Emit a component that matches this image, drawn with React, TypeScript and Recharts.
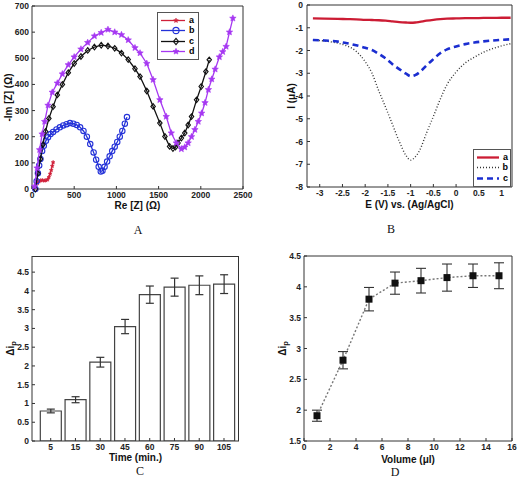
import React from "react";
import {
  ScatterChart,
  Scatter,
  LineChart,
  Line,
  ComposedChart,
  Bar,
  XAxis,
  YAxis,
  Legend,
  ErrorBar,
} from "recharts";

// ---------- A: Nyquist plots ----------
const reA = [65, 85, 105, 125, 145, 165, 185, 200, 215, 228, 240, 250];
const imA = [22, 30, 33, 33, 32, 33, 36, 45, 58, 72, 88, 102];

const reB = [40, 55, 70, 85, 100, 120, 140, 165, 190, 220, 250, 290, 330, 370, 410, 450, 490, 530, 570, 610, 650, 690, 730, 760, 790, 815, 835, 860, 890, 920, 950, 980, 1010, 1040, 1070, 1100, 1125];
const imB = [0, 30, 60, 90, 115, 145, 165, 185, 198, 210, 218, 228, 236, 243, 248, 252, 250, 245, 236, 222, 200, 172, 140, 112, 85, 67, 70, 85, 105, 125, 145, 162, 180, 200, 222, 250, 275];

const reC = [40, 70, 100, 130, 160, 200, 250, 300, 360, 430, 500, 580, 660, 740, 820, 900, 980, 1060, 1140, 1220, 1280, 1360, 1435, 1515, 1575, 1630, 1670, 1700, 1730, 1770, 1810, 1850, 1890, 1950, 2005, 2060, 2100];
const imC = [0, 60, 115, 170, 220, 270, 315, 360, 400, 445, 480, 507, 530, 543, 550, 547, 538, 520, 495, 460, 430, 375, 316, 252, 201, 163, 155, 160, 176, 195, 214, 245, 277, 341, 392, 449, 494];

const reD = [30, 60, 90, 120, 150, 190, 240, 300, 360, 430, 500, 580, 660, 740, 820, 900, 980, 1060, 1140, 1220, 1280, 1360, 1435, 1515, 1590, 1650, 1710, 1770, 1810, 1850, 1890, 1930, 1970, 2010, 2050, 2090, 2130, 2170, 2220, 2260, 2300, 2340, 2380];
const imD = [10, 80, 150, 210, 258, 320, 370, 405, 440, 475, 505, 535, 560, 585, 598, 610, 600, 590, 570, 540, 520, 480, 418, 341, 277, 214, 176, 153, 160, 176, 200, 227, 258, 290, 330, 380, 420, 458, 505, 525, 545, 600, 653];

const reTicks = [0, 500, 1000, 1500, 2000, 2500];
const imTicks = [0, 100, 200, 300, 400, 500, 600, 700];

// ---------- B: DPV curves ----------
const potential = [-3.15, -2.9, -2.6, -2.4, -2.2, -2.0, -1.85, -1.7, -1.55, -1.4, -1.25, -1.1, -1.0, -0.9, -0.8, -0.65, -0.5, -0.35, -0.2, 0, 0.2, 0.4, 0.6, 0.8, 1.0, 1.2];
const curA = [-0.59, -0.6, -0.61, -0.62, -0.63, -0.65, -0.66, -0.67, -0.69, -0.72, -0.75, -0.77, -0.78, -0.77, -0.74, -0.69, -0.65, -0.62, -0.6, -0.59, -0.58, -0.58, -0.57, -0.57, -0.56, -0.56];
const curB = [-1.54, -1.58, -1.68, -1.8, -2.03, -2.49, -3.0, -3.78, -4.5, -5.25, -6.0, -6.62, -6.82, -6.68, -6.38, -5.62, -4.9, -4.15, -3.5, -2.95, -2.55, -2.3, -2.08, -1.92, -1.8, -1.7];
const curC = [-1.54, -1.56, -1.61, -1.68, -1.77, -1.88, -1.98, -2.15, -2.35, -2.6, -2.82, -3.02, -3.13, -3.08, -2.95, -2.65, -2.38, -2.12, -1.95, -1.82, -1.72, -1.65, -1.6, -1.56, -1.53, -1.51];
const eTicks = [-3, -2.5, -2, -1.5, -1, -0.5, 0, 0.5, 1];
const iTicks = [0, -1, -2, -3, -4, -5, -6, -7, -8];

// ---------- C: incubation time ----------
const times = ["5", "15", "30", "45", "60", "75", "90", "105"];
const dipTime = [0.8, 1.1, 2.1, 3.05, 3.9, 4.1, 4.15, 4.18];
const dipTimeErr = [0.05, 0.08, 0.13, 0.19, 0.23, 0.24, 0.25, 0.25];
const dipTicksC = [0, 0.5, 1, 1.5, 2, 2.5, 3, 3.5, 4, 4.5];
const slotTicks = [1, 2, 3, 4, 5, 6, 7, 8];

// ---------- D: volume ----------
const volumes = [1, 3, 5, 7, 9, 11, 13, 15];
const dipVol = [1.91, 2.81, 3.8, 4.06, 4.1, 4.15, 4.18, 4.18];
const dipVolErr = [0.09, 0.14, 0.19, 0.18, 0.2, 0.22, 0.19, 0.21];
const volTicks = [0, 2, 4, 6, 8, 10, 12, 14, 16];
const dipTicksD = [1.5, 2, 2.5, 3, 3.5, 4, 4.5];

const FONT = '"Liberation Sans", Arial, sans-serif';
const tickStyle = { fontFamily: FONT, fontSize: 8.5, fontWeight: 700, fill: "#222" };
const titleStyle = { fontFamily: FONT, fontSize: 10, fontWeight: 700, fill: "#111" };
const AX = "#333";

const nyquist = [
  { name: "a", color: "#d0213a", kind: "star", size: 2, re: reA, im: imA },
  { name: "b", color: "#2432d8", kind: "circle", size: 2.7, re: reB, im: imB },
  { name: "c", color: "#111111", kind: "diamond", size: 2.8, re: reC, im: imC },
  { name: "d", color: "#a638f2", kind: "star", size: 3.4, re: reD, im: imD },
];

const dpv = [
  { name: "a", key: "a", color: "#cc1c34", width: 2.3, dash: undefined },
  { name: "b", key: "b", color: "#333333", width: 1.4, dash: "1 2" },
  { name: "c", key: "c", color: "#1b2ed0", width: 2.6, dash: "6 4" },
];

const dpvData = potential.map((e, i) => ({ e, a: curA[i], b: curB[i], c: curC[i] }));
const timeData = times.map((t, i) => ({ slot: slotTicks[i], t, v: dipTime[i], err: dipTimeErr[i] }));
const volData = volumes.map((x, i) => ({ x, v: dipVol[i], err: dipVolErr[i] }));

const C_X = [0.245, 8.606];
const C_Y = [0, 4.93];

function starPath(cx: number, cy: number, r: number) {
  let d = "";
  for (let k = 0; k < 10; k++) {
    const rr = k % 2 === 0 ? r : r * 0.45;
    const ang = -Math.PI / 2 + (k * Math.PI) / 5;
    d += (k === 0 ? "M" : "L") + (cx + rr * Math.cos(ang)).toFixed(2) + "," + (cy + rr * Math.sin(ang)).toFixed(2);
  }
  return d + "Z";
}

function Marker({ kind, cx, cy, color, size }: any) {
  if (kind === "circle")
    return <circle cx={cx} cy={cy} r={size} fill="none" stroke={color} strokeWidth={1.1} />;
  if (kind === "diamond")
    return (
      <path
        d={`M${cx},${cy - size}L${cx + size * 0.8},${cy}L${cx},${cy + size}L${cx - size * 0.8},${cy}Z`}
        fill="none"
        stroke={color}
        strokeWidth={1.1}
      />
    );
  return <path d={starPath(cx, cy, size)} fill={color} stroke={color} strokeWidth={0.6} />;
}

function DeltaLabel(props: any) {
  const vb = props.viewBox || {};
  const x = vb.x + props.off;
  const y = vb.y + vb.height / 2;
  return (
    <text
      x={x}
      y={y}
      transform={`rotate(-90 ${x} ${y})`}
      textAnchor="middle"
      dominantBaseline="central"
      style={titleStyle}
    >
      Δi
      <tspan dy={3} fontSize={7.5}>p</tspan>
    </text>
  );
}

const NyquistLegend = () => (
  <div style={{ border: "1px solid #555", background: "#fff", padding: "2px 2px", width: 42, boxSizing: "border-box" }}>
    {nyquist.map((s) => (
      <div key={s.name} style={{ display: "flex", alignItems: "center", height: 10.5 }}>
        <svg width={26} height={9}>
          <line x1={1} y1={4.5} x2={25} y2={4.5} stroke={s.color} strokeWidth={1.3} />
          <Marker kind={s.kind} cx={16} cy={4.5} color={s.color} size={Math.min(s.size + 0.4, 3.2)} />
        </svg>
        <span style={{ fontFamily: FONT, fontSize: 9, fontWeight: 700, marginLeft: 3, lineHeight: "9px" }}>{s.name}</span>
      </div>
    ))}
  </div>
);

const DpvLegend = () => (
  <div style={{ border: "1px solid #555", background: "#fff", padding: "2px 2px", width: 38, boxSizing: "border-box" }}>
    {dpv.map((s) => (
      <div key={s.name} style={{ display: "flex", alignItems: "center", height: 10.5 }}>
        <svg width={24} height={9}>
          <line x1={1} y1={4.5} x2={23} y2={4.5} stroke={s.color} strokeWidth={s.width} strokeDasharray={s.dash} />
        </svg>
        <span style={{ fontFamily: FONT, fontSize: 9, fontWeight: 700, marginLeft: 4, lineHeight: "9px" }}>{s.name}</span>
      </div>
    ))}
  </div>
);

const panelLetter = (text: string, left: number, top: number) => (
  <div
    style={{
      position: "absolute",
      left: left - 10,
      top,
      width: 20,
      textAlign: "center",
      fontFamily: '"Liberation Serif", "Times New Roman", serif',
      fontSize: 12,
      lineHeight: "12px",
      color: "#111",
    }}
  >
    {text}
  </div>
);

export default function App() {
  return (
    <div style={{ position: "absolute", left: 0, top: 0, width: 520, height: 480, background: "#fff" }}>
      {/* A */}
      <div style={{ position: "absolute", left: 0, top: 0 }}>
        <ScatterChart width={260} height={240} margin={{ top: 5, right: 16, bottom: 31, left: 0 }}>
          <XAxis
            type="number"
            dataKey="x"
            domain={[0, 2500]}
            ticks={reTicks}
            height={20}
            stroke={AX}
            tick={tickStyle}
            tickSize={-3}
            tickMargin={6}
            label={{ value: "Re [Z] (Ω)", position: "insideBottom", offset: 0, style: titleStyle }}
          />
          <YAxis
            type="number"
            dataKey="y"
            domain={[0, 700]}
            ticks={imTicks}
            width={32}
            stroke={AX}
            tick={tickStyle}
            tickSize={-3}
            tickMargin={6}
            label={{ value: "-Im [Z] (Ω)", angle: -90, position: "insideLeft", offset: 8, style: { ...titleStyle, textAnchor: "middle" } }}
          />
          <XAxis xAxisId="top" orientation="top" type="number" domain={[0, 2500]} ticks={reTicks} height={1} stroke={AX} tick={false} tickSize={-3} />
          <YAxis yAxisId="right" orientation="right" type="number" domain={[0, 700]} ticks={imTicks} width={1} stroke={AX} tick={false} tickSize={-3} />
          <Legend
            layout="horizontal"
            verticalAlign="middle"
            align="center"
            content={NyquistLegend}
            wrapperStyle={{ left: 157, top: 12, width: 42 }}
          />
          {nyquist.map((s) => (
            <Scatter
              key={s.name}
              name={s.name}
              data={s.re.map((x, i) => ({ x, y: s.im[i] }))}
              fill={s.color}
              line={{ stroke: s.color, strokeWidth: 1.3 }}
              shape={(p: any) => <Marker kind={s.kind} cx={p.cx} cy={p.cy} color={s.color} size={s.size} />}
              isAnimationActive={false}
            />
          ))}
        </ScatterChart>
      </div>

      {/* B */}
      <div style={{ position: "absolute", left: 260, top: 0 }}>
        <LineChart width={260} height={240} data={dpvData} margin={{ top: 4, right: 7, bottom: 32, left: 0 }}>
          <XAxis
            type="number"
            dataKey="e"
            domain={[-3.28, 1.23]}
            allowDataOverflow
            ticks={eTicks}
            height={21}
            stroke={AX}
            tick={tickStyle}
            tickSize={-3}
            tickMargin={6}
            label={{ value: "E (V) vs. (Ag/AgCl)", position: "insideBottom", offset: 0, style: titleStyle }}
          />
          <YAxis
            type="number"
            domain={[-8, 0]}
            ticks={iTicks}
            width={47}
            stroke={AX}
            tick={tickStyle}
            tickSize={-3}
            tickMargin={7}
            label={{ value: "I (μA)", angle: -90, position: "insideLeft", offset: 31, style: { ...titleStyle, textAnchor: "middle" } }}
          />
          <XAxis xAxisId="top" orientation="top" type="number" domain={[-3.28, 1.23]} allowDataOverflow ticks={eTicks} height={1} stroke={AX} tick={false} tickSize={-3} />
          <YAxis yAxisId="right" orientation="right" type="number" domain={[-8, 0]} ticks={iTicks} width={1} stroke={AX} tick={false} tickSize={-3} />
          <Legend
            layout="horizontal"
            verticalAlign="middle"
            align="center"
            content={DpvLegend}
            wrapperStyle={{ left: 213, top: 149, width: 38 }}
          />
          {dpv.map((s) => (
            <Line
              key={s.key}
              name={s.name}
              dataKey={s.key}
              type="monotone"
              stroke={s.color}
              strokeWidth={s.width}
              strokeDasharray={s.dash}
              dot={false}
              isAnimationActive={false}
            />
          ))}
        </LineChart>
      </div>

      {/* C */}
      <div style={{ position: "absolute", left: 0, top: 240 }}>
        <ComposedChart width={260} height={240} data={timeData} margin={{ top: 16, right: 21, bottom: 19, left: 0 }}>
          <XAxis
            type="number"
            dataKey="slot"
            domain={C_X}
            allowDataOverflow
            ticks={slotTicks}
            tickFormatter={(v) => times[v - 1]}
            height={20}
            stroke={AX}
            tick={tickStyle}
            tickSize={-3}
            tickMargin={6}
            label={{ value: "Time (min.)", position: "insideBottom", offset: 0, style: titleStyle }}
          />
          <YAxis
            type="number"
            domain={C_Y}
            allowDataOverflow
            ticks={dipTicksC}
            width={32}
            stroke={AX}
            tick={tickStyle}
            tickSize={-3}
            tickMargin={6}
            label={<DeltaLabel off={10} />}
          />
          <Bar dataKey="v" barSize={21} fill="#fff" stroke="#444" strokeWidth={1.2} isAnimationActive={false}>
            <ErrorBar dataKey="err" width={4} stroke="#333" strokeWidth={1.2} direction="y" />
          </Bar>
        </ComposedChart>
        {/* frame: top and right edges of the plot box */}
        <div
          style={{
            position: "absolute",
            left: 32,
            top: 16,
            width: 207,
            height: 185,
            borderTop: `1px solid ${AX}`,
            borderRight: `1px solid ${AX}`,
            boxSizing: "border-box",
            pointerEvents: "none",
          }}
        />
      </div>

      {/* D */}
      <div style={{ position: "absolute", left: 260, top: 240 }}>
        <LineChart width={260} height={240} data={volData} margin={{ top: 15, right: 7, bottom: 17, left: 0 }}>
          <XAxis
            type="number"
            dataKey="x"
            domain={[0, 16]}
            ticks={volTicks}
            height={22}
            stroke={AX}
            tick={tickStyle}
            tickSize={-3}
            tickMargin={6}
            label={{ value: "Volume (μl)", position: "insideBottom", offset: 0, style: titleStyle }}
          />
          <YAxis
            type="number"
            domain={[1.5, 4.5]}
            ticks={dipTicksD}
            width={44}
            stroke={AX}
            tick={tickStyle}
            tickSize={-3}
            tickMargin={6}
            label={<DeltaLabel off={22} />}
          />
          <XAxis xAxisId="top" orientation="top" type="number" domain={[0, 16]} ticks={volTicks} height={1} stroke={AX} tick={false} tickSize={-3} />
          <YAxis yAxisId="right" orientation="right" type="number" domain={[1.5, 4.5]} ticks={dipTicksD} width={1} stroke={AX} tick={false} tickSize={-3} />
          <Line
            dataKey="v"
            type="linear"
            stroke="#777"
            strokeWidth={1.4}
            strokeDasharray="2 2"
            dot={(p: any) => <rect key={p.index} x={p.cx - 3.5} y={p.cy - 3.5} width={7} height={7} fill="#111" />}
            isAnimationActive={false}
          >
            <ErrorBar dataKey="err" width={5} stroke="#333" strokeWidth={1.1} direction="y" />
          </Line>
        </LineChart>
      </div>

      {panelLetter("A", 138, 224)}
      {panelLetter("B", 391, 223)}
      {panelLetter("C", 140, 465)}
      {panelLetter("D", 395, 466)}
    </div>
  );
}
